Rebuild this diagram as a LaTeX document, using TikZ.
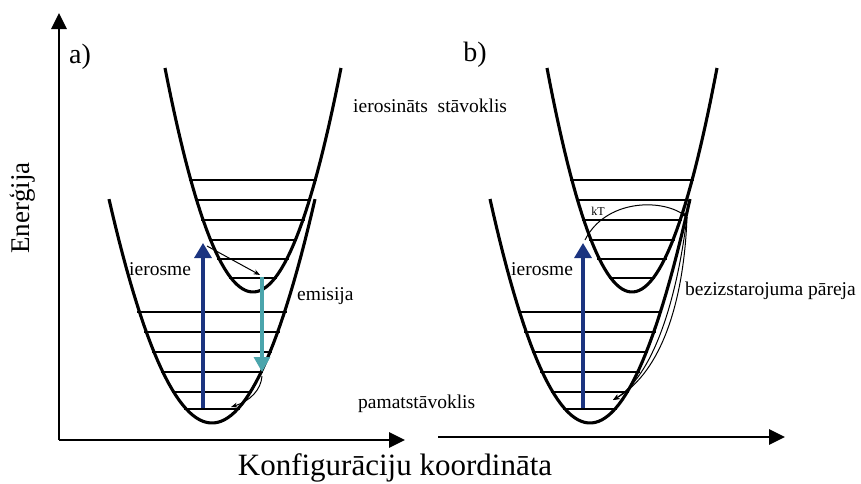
\documentclass[tikz,border=0pt]{standalone}
\usepackage{fontspec}
\setmainfont{Liberation Serif}
\usepackage{tikz}
\usetikzlibrary{arrows.meta, positioning}

\definecolor{exblue}{HTML}{1B3480}
\definecolor{emteal}{HTML}{4BA5AC}

\begin{document}
\begin{tikzpicture}[
  x=1pt, y=-1pt,
  axis/.style={line width=2.8pt, -{Triangle[length=16pt, width=15pt]}},
  well/.style={line width=3.1pt},
  level/.style={line width=2.7pt},
  excite/.style={draw=exblue, line width=3.2pt, -{Triangle[length=15pt, width=17pt]}},
  emit/.style={draw=emteal, line width=3.2pt, -{Triangle[length=15pt, width=16pt]}},
  relax/.style={line width=1pt, -{Stealth[length=6.5pt, width=5pt]}},
  lbl/.style={font=\fontsize{19.5}{22}\selectfont, inner sep=0pt},
  big/.style={font=\fontsize{31}{36}\selectfont, inner sep=0pt}
]
  \useasboundingbox (0,0) rectangle (861,483);

  % axes
  \coordinate (origA) at (59,440);
  \coordinate (ytipA) at (59,13);
  \coordinate (xtipA) at (405,440);
  \coordinate (origB) at (438,437);
  \coordinate (xtipB) at (785,437);
  \draw[axis] (origA) -- (ytipA);
  \draw[axis] (origA) -- (xtipA);
  \draw[axis] (origB) -- (xtipB);

  % excited state wells (vertex x / vertex y / curvature / half width)
  \foreach \xv/\yv/\k/\hw in {253/292/0.02893/88, 632/292/0.031/85} {
    \draw[well] plot[domain=-\hw:\hw, samples=60] ({\xv+\x}, {\yv-\k*\x*\x});
    \foreach \ly in {180,200,220,240,259,278} {
      \pgfmathsetmacro\dx{sqrt((\yv-\ly)/\k)+2}
      \draw[level] ({\xv-\dx},\ly) -- ({\xv+\dx},\ly);
    }
  }
  % ground state wells
  \foreach \xv/\yv/\k/\hw in {212/423/0.0211/103, 590/423/0.0224/100} {
    \draw[well] plot[domain=-\hw:\hw, samples=60] ({\xv+\x}, {\yv-\k*\x*\x});
    \foreach \ly in {312,332,352,372,392,409} {
      \pgfmathsetmacro\dx{sqrt((\yv-\ly)/\k)+2}
      \draw[level] ({\xv-\dx},\ly) -- ({\xv+\dx},\ly);
    }
  }

  % a) transitions
  \coordinate (exA0) at (203,408);
  \coordinate (exA1) at (203,243);
  \coordinate (vrA0) at (207,246);
  \coordinate (vrA1) at (260,275);
  \coordinate (emA0) at (262,277);
  \coordinate (emA1) at (262,372);
  \coordinate (grA0) at (262,376);
  \coordinate (grA1) at (231,407);
  \draw[excite] (exA0) -- (exA1);
  \draw[relax] (vrA0) -- (vrA1);
  \draw[emit] (emA0) -- (emA1);
  \draw[relax] (grA0) .. controls (261,390) and (250,401) .. (grA1);

  % b) transitions
  \coordinate (exB0) at (583,408);
  \coordinate (exB1) at (583,243);
  \coordinate (ktB0) at (585,240);
  \coordinate (ktB1) at (687,217);
  \coordinate (nrB1) at (613,400);
  \draw[excite] (exB0) -- (exB1);
  \draw[relax] (ktB0) .. controls (605,200) and (660,198) .. (ktB1);
  \draw[relax] (ktB1) .. controls (684,300) and (662,372) .. (nrB1);
  \draw[relax] (ktB1) .. controls (676,305) and (652,376) .. (nrB1);

  % labels
  \node[font=\fontsize{28}{32}\selectfont, inner sep=0pt] (tagA) at (80,57) {a)};
  \node[font=\fontsize{28}{32}\selectfont, inner sep=0pt] (tagB) at (475,55) {b)};
  \node[font=\fontsize{27}{30}\selectfont, inner sep=0pt, rotate=90] (energy) at (23,208) {Enerģija};
  \node[big, anchor=base] (coord) at (395,475) {Konfigurāciju koordināta};
  \node[lbl, anchor=base west] (upper) at (353,112) {ierosināts\ \ stāvoklis};
  \node[lbl, anchor=base west] (lower) at (358,408) {pamatstāvoklis};
  \node[lbl, anchor=base west] (exlblA) at (129,275) {ierosme};
  \node[lbl, anchor=base west] (emlbl) at (297,300) {emisija};
  \node[lbl, anchor=base west] (exlblB) at (511,275) {ierosme};
  \node[lbl, anchor=base west] (nrlbl) at (685,295) {bezizstarojuma pāreja};
  \node[font=\fontsize{12}{14}\selectfont, inner sep=0pt] (kt) at (598,211) {kT};
\end{tikzpicture}
\end{document}
